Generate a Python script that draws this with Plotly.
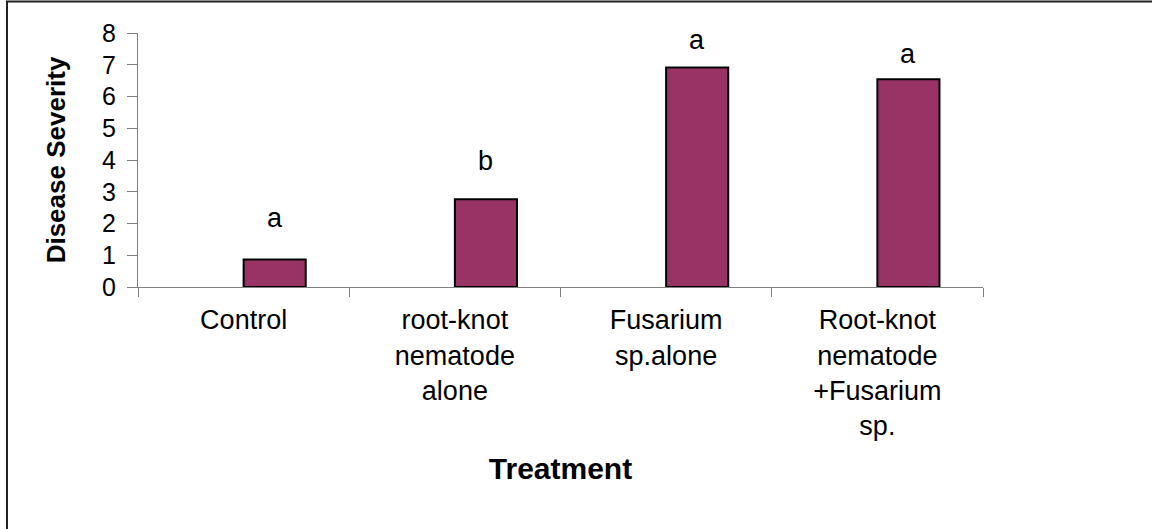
import plotly.graph_objects as go

categories = ["Control", "root-knot<br>nematode<br>alone", "Fusarium<br>sp.alone",
              "Root-knot<br>nematode<br>+Fusarium<br>sp."]
severity = [0.87, 2.76, 6.91, 6.54]
letters = ["a", "b", "a", "a"]
letter_y = [2.17, 3.97, 7.78, 7.34]
y_ticks = [0, 1, 2, 3, 4, 5, 6, 7, 8]

W, H = 1152, 529
L, R, T, B = 138, 169, 33, 242
pw, ph = W - L - R, H - T - B

def px_x(x):
    return (x - L) / pw

def px_y(y):
    return (H - B - y) / ph

FONT = "Liberation Sans, Arial, sans-serif"

fig = go.Figure()
# empty first series (as in the original Excel chart), real series second
fig.add_trace(go.Bar(x=categories, y=[None] * len(categories), showlegend=False,
                     marker=dict(color="#993366")))
fig.add_trace(go.Bar(x=categories, y=severity, showlegend=False,
                     marker=dict(color="#993366", line=dict(color="black", width=2))))

for cat, let, ly in zip(categories, letters, letter_y):
    fig.add_annotation(x=cat, y=ly, text=let, showarrow=False, xref="x", yref="y",
                       xshift=31, font=dict(family=FONT, size=27, color="black"))

fig.add_shape(type="rect", xref="paper", yref="paper",
              x0=px_x(7), x1=px_x(1160), y0=px_y(540), y1=px_y(1.5),
              line=dict(color="#222222", width=2), layer="below")

fig.update_layout(
    width=W, height=H,
    margin=dict(l=L, r=R, t=T, b=B, pad=0),
    paper_bgcolor="white", plot_bgcolor="white",
    barmode="group", bargap=0.412, bargroupgap=0,
    font=dict(family=FONT, color="black"),
    xaxis=dict(
        type="category", showline=True, linecolor="#808080", linewidth=1,
        ticks="outside", tickson="boundaries", ticklen=9, tickcolor="#808080",
        tickfont=dict(family=FONT, size=27, color="black"), ticklabelstandoff=9,
        showgrid=False, zeroline=False,
        title=dict(text="<b>Treatment</b>", font=dict(family=FONT, size=30, color="black"),
                   standoff=18),
    ),
    yaxis=dict(
        range=[0, 8], tickvals=y_ticks, showline=True, linecolor="#808080", linewidth=1,
        ticks="outside", ticklen=10, tickcolor="#808080",
        tickfont=dict(family=FONT, size=25, color="black"), ticklabelstandoff=6,
        showgrid=False, zeroline=False,
        title=dict(text="<b>Disease Severity</b>", font=dict(family=FONT, size=26, color="black"),
                   standoff=28),
    ),
)

fig.write_html("out.html", config={"displayModeBar": False},
               post_script="document.body.style.margin='0';")
